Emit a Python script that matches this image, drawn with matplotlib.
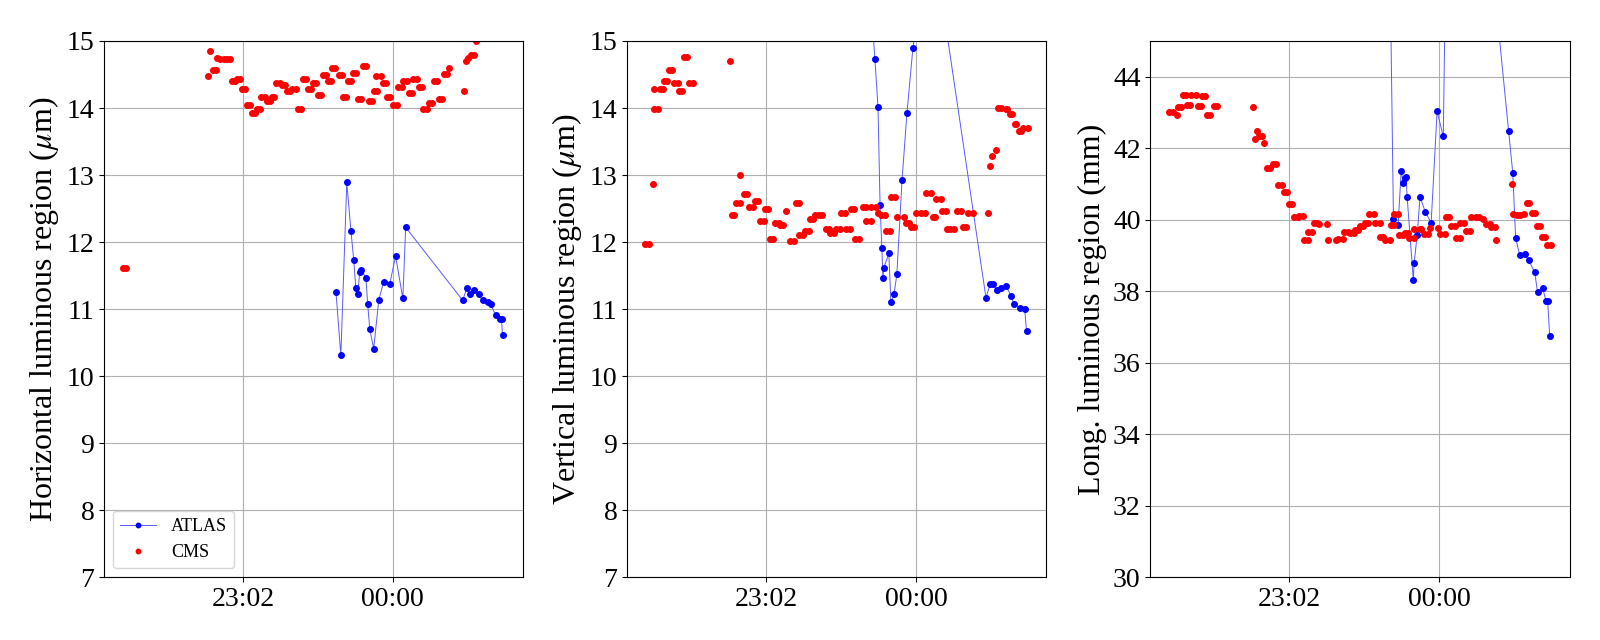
import matplotlib
matplotlib.use("Agg")
import matplotlib.pyplot as plt

plt.rcParams['font.family'] = ['Liberation Serif', 'DejaVu Serif']
plt.rcParams['mathtext.fontset'] = 'stix'

# time in minutes relative to 23:02
tick_pos = [0, 58]
tick_labels = ["23:02", "00:00"]

# Panel 1 : horizontal
cms_h_t = [-46.6,-45.1,-13.5,-12.8,-11.6,-10.3,-10.1,-8.8,-7.5,-6.2,-4.9,-4.3,-3.2,-2.3,-1.3,-0.4,0.6,1.5,2.8,3.5,4.8,5.4,6.7,7.1,8.4,9.3,10.3,11.2,12.2,12.9,14.2,15.1,16.4,17.0,18.3,18.9,20.6,21.3,22.6,23.2,24.5,25.1,26.4,27.1,28.4,29.0,30.3,30.9,32.2,32.9,34.1,34.4,35.7,37.0,38.3,38.7,39.9,40.6,41.9,42.5,43.8,44.5,45.7,46.4,47.7,48.7,50.0,50.6,51.9,51.7,53.5,54.1,55.4,55.7,57.0,58.2,59.5,60.2,61.5,62.1,63.4,64.2,65.5,66.0,67.3,68.0,69.3,69.8,71.1,71.9,73.2,73.8,75.1,75.8,77.1,77.7,79.0,79.6,85.7,86.3,87.0,88.3,89.6,90.2]
cms_h_v = [11.62,11.62,14.48,14.85,14.56,14.56,14.74,14.73,14.73,14.73,14.73,14.40,14.40,14.44,14.44,14.28,14.28,14.04,14.04,13.92,13.92,13.98,13.98,14.17,14.17,14.10,14.10,14.16,14.16,14.37,14.37,14.34,14.34,14.25,14.25,14.28,14.28,13.99,13.99,14.43,14.43,14.28,14.28,14.37,14.37,14.20,14.20,14.49,14.49,14.40,14.40,14.59,14.59,14.49,14.49,14.17,14.17,14.40,14.40,14.52,14.52,14.14,14.14,14.62,14.62,14.11,14.11,14.26,14.26,14.47,14.47,14.38,14.38,14.17,14.17,14.05,14.05,14.31,14.31,14.40,14.40,14.22,14.22,14.44,14.44,14.31,14.31,13.99,13.99,14.07,14.07,14.41,14.41,14.14,14.14,14.50,14.50,14.59,14.26,14.70,14.75,14.79,14.79,15.0]
atlas_h_t = [36.0,37.9,40.2,41.8,42.9,43.7,44.5,45.2,45.7,47.6,48.3,49.1,50.6,52.6,54.5,56.8,59.1,61.9,63.0,85.1,86.6,87.8,89.3,91.2,92.8,94.7,95.9,97.8,99.7,100.1,100.5]
atlas_h_v = [11.26,10.31,12.89,12.17,11.73,11.31,11.23,11.56,11.59,11.47,11.07,10.70,10.41,11.14,11.41,11.37,11.79,11.16,12.22,11.13,11.31,11.23,11.28,11.22,11.13,11.10,11.07,10.91,10.85,10.85,10.61]

# Panel 2 : vertical
cms_v_t = [-46.9,-45.2,-43.9,-43.5,-43.3,-41.7,-41.1,-39.8,-39.4,-38.4,-37.7,-36.4,-35.5,-34.2,-33.9,-32.6,-32.0,-30.7,-29.7,-28.4,-14.1,-13.3,-12.3,-11.6,-10.3,-10.2,-8.7,-7.4,-6.5,-5.2,-4.5,-3.2,-2.3,-1.0,-0.6,0.6,1.3,2.6,3.5,4.8,5.4,6.7,7.5,9.4,10.7,11.4,12.7,12.9,14.2,15.1,16.4,16.8,18.1,19.1,20.4,21.7,23.0,24.3,24.9,26.2,27.1,28.4,29.1,30.4,31.0,32.3,32.9,34.2,34.5,35.8,37.5,38.8,38.5,40.4,40.7,42.5,43.3,44.6,45.9,46.5,47.8,48.4,50.0,50.8,53.4,54.0,55.3,55.9,57.2,58.1,59.8,61.4,62.0,63.7,64.6,65.5,65.9,67.6,68.2,69.5,70.0,71.3,72.6,73.9,75.6,76.2,77.5,78.2,80.1,85.8,86.6,87.4,88.9,89.9,91.1,92.7,93.3,94.5,95.0,96.2,96.8,97.8,98.7,99.6,101.3]
cms_v_v = [11.97,11.97,12.86,14.29,13.98,13.98,14.29,14.29,14.41,14.41,14.56,14.56,14.37,14.37,14.25,14.25,14.76,14.76,14.38,14.38,14.70,12.41,12.41,12.59,12.59,13.0,12.71,12.71,12.52,12.52,12.61,12.61,12.31,12.31,12.50,12.50,12.05,12.05,12.29,12.29,12.25,12.25,12.46,12.01,12.01,12.59,12.59,12.11,12.11,12.16,12.16,12.35,12.35,12.41,12.41,12.40,12.20,12.20,12.13,12.13,12.20,12.20,12.44,12.44,12.19,12.19,12.50,12.50,12.04,12.04,12.52,12.52,12.31,12.31,12.53,12.53,12.44,12.40,12.40,12.17,12.17,12.67,12.67,12.38,12.38,12.29,12.29,12.22,12.22,12.44,12.44,12.44,12.73,12.73,12.37,12.37,12.65,12.65,12.47,12.47,12.20,12.20,12.19,12.47,12.47,12.22,12.22,12.43,12.44,12.44,13.13,13.29,13.37,14.0,14.0,13.98,13.98,13.91,13.91,13.76,13.76,13.65,13.65,13.70,13.70]
atlas_v_t = [41.0,42.1,43.3,44.1,44.8,45.2,45.6,47.5,48.3,49.5,50.6,52.6,54.5,56.8,63.6,85.1,86.7,87.9,89.4,91.1,92.9,94.8,96.0,98.1,100.1,100.8]
atlas_v_v = [15.34,14.73,14.01,12.55,11.91,11.46,11.62,11.83,11.10,11.22,11.52,12.92,13.92,14.89,16.78,11.17,11.37,11.37,11.29,11.31,11.34,11.20,11.07,11.01,11.0,10.67]

# Panel 3 : longitudinal
cms_l_t = [-46.5,-45.2,-43.5,-43.3,-42.0,-41.3,-40.1,-39.7,-38.4,-37.9,-36.2,-35.5,-34.2,-34.0,-32.6,-32.0,-30.7,-29.3,-28.0,-14.1,-13.3,-12.5,-11.9,-10.6,-9.8,-8.7,-7.4,-6.5,-5.2,-4.5,-2.8,-2.2,-1.0,-0.3,1.2,1.7,3.2,3.9,5.2,5.6,7.1,7.1,8.7,9.4,10.7,11.6,14.5,15.1,18.1,18.7,20.7,21.1,22.6,23.3,24.9,25.6,26.5,27.4,28.4,29.1,30.4,31.0,32.9,33.2,34.9,34.9,36.2,37.2,39.0,39.4,40.4,40.7,42.2,42.6,43.9,44.6,46.1,46.5,48.2,48.4,50.4,51.0,52.3,53.6,54.3,57.5,58.4,60.1,60.5,62.0,62.7,64.2,64.6,65.9,66.1,67.8,68.5,69.8,70.4,72.4,73.6,74.9,76.0,77.5,78.2,79.5,80.1,86.1,86.7,88.0,89.3,90.9,91.9,92.9,94.1,95.2,96.0,97.0,97.8,99.1,99.8,101.3]
cms_l_v = [43.0,43.0,42.94,43.14,43.14,43.50,43.50,43.22,43.22,43.50,43.50,43.19,43.19,43.47,43.47,42.92,42.92,43.17,43.17,43.14,42.25,42.47,42.33,42.33,42.14,41.44,41.44,41.56,41.56,40.97,40.97,40.78,40.78,40.44,40.44,40.08,40.08,40.11,40.11,39.44,39.44,39.67,39.67,39.92,39.92,39.89,39.89,39.44,39.43,39.47,39.47,39.67,39.67,39.64,39.64,39.72,39.72,39.83,39.83,39.92,39.92,40.17,40.17,39.92,39.92,39.53,39.53,39.42,39.42,39.86,39.86,40.17,40.17,39.58,39.58,39.64,39.64,39.50,39.50,39.75,39.75,39.75,39.61,39.61,39.78,39.78,39.61,39.61,40.08,40.08,39.83,39.83,39.50,39.50,39.92,39.92,39.69,39.69,40.08,40.08,40.08,40.03,39.89,39.89,39.81,39.81,39.44,41.0,40.17,40.14,40.14,40.17,40.47,40.47,40.19,40.19,39.83,39.83,39.53,39.53,39.28,39.28]
atlas_l_t = [39.0,40.3,42.1,43.3,44.1,44.8,45.2,45.6,48.0,48.3,49.5,50.6,52.6,54.9,57.2,59.6,62.7,84.9,86.5,87.6,89.2,91.1,92.7,95.0,96.1,98.1,99.4,100.0,100.8]
atlas_l_v = [47.0,40.03,39.86,41.36,41.03,41.17,41.19,40.64,38.31,38.78,39.58,40.64,40.22,39.92,43.03,42.33,58.7,42.47,41.31,39.5,39.0,39.03,38.86,38.53,37.97,38.08,37.72,37.72,36.75]

fig = plt.figure(figsize=(16, 6.4), dpi=100)
lefts = [0.065, 0.392, 0.719]
panels = [
    (cms_h_t, cms_h_v, atlas_h_t, atlas_h_v, (7, 15), list(range(7, 16)), r"Horizontal luminous region ($\mu$m)"),
    (cms_v_t, cms_v_v, atlas_v_t, atlas_v_v, (7, 15), list(range(7, 16)), r"Vertical luminous region ($\mu$m)"),
    (cms_l_t, cms_l_v, atlas_l_t, atlas_l_v, (30, 45), list(range(30, 45, 2)), "Long. luminous region (mm)"),
]
for i, (ct, cv, at, av, yl, yt, lab) in enumerate(panels):
    ax = fig.add_axes([lefts[i], 0.098, 0.262, 0.838])
    ax.plot(at, av, '-o', color='#5a5aff', lw=0.7, ms=4, mfc='blue', mec='blue', label='ATLAS')
    ax.plot(ct, cv, 'o', color='red', ms=4, ls='none', label='CMS')
    ax.set_xlim(-53.8, 108.5)
    ax.set_ylim(*yl)
    ax.set_yticks(yt)
    ax.set_xticks(tick_pos)
    ax.set_xticklabels(tick_labels)
    ax.tick_params(labelsize=20)
    ax.grid(True, color='#b0b0b0', lw=0.8)
    ax.set_ylabel(lab, fontsize=23)
    if i == 0:
        ax.legend(loc='lower left', fontsize=13, markerscale=0.8, framealpha=0.8)

fig.savefig("out.png", dpi=100)
